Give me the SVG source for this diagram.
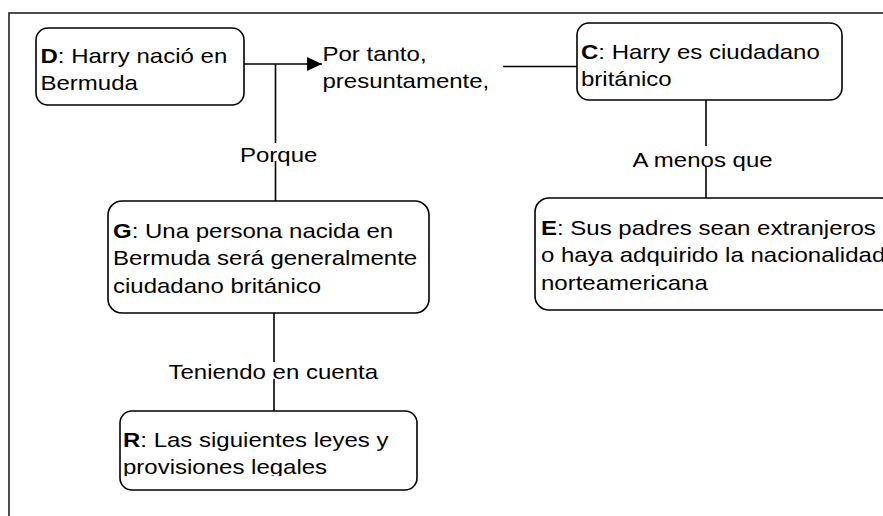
<svg xmlns="http://www.w3.org/2000/svg" width="883" height="516" viewBox="0 0 883 516">
<style>
  text { font-family: "Liberation Sans", Arial, sans-serif; font-size: 21px; fill: #000; }
  .box { fill: #fff; stroke: #000; stroke-width: 1.6; }
  .conn { stroke: #000; stroke-width: 1.6; fill: none; }
  .bg { fill: #fff; stroke: none; }
  .frame { fill: none; stroke: #222; stroke-width: 1.6; }
  b, .b { font-weight: bold; }
</style>
<defs>
  <marker id="arrow" markerUnits="userSpaceOnUse" markerWidth="16" markerHeight="16" refX="15" refY="7" orient="auto">
    <path d="M0,0 L15,7 L0,14 Z" fill="#000"/>
  </marker>
  <clipPath id="clipR"><rect x="118" y="409" width="301" height="67"/></clipPath>
</defs>
<rect class="frame" x="9" y="13" width="900" height="600"/>
<g id="connectors">
  <line class="conn" x1="244" y1="64" x2="322" y2="64" marker-end="url(#arrow)"/>
  <line class="conn" x1="275.5" y1="64" x2="275.5" y2="201"/>
  <line class="conn" x1="503" y1="66.5" x2="577" y2="66.5"/>
  <line class="conn" x1="706" y1="100" x2="706" y2="198"/>
  <line class="conn" x1="274" y1="313" x2="274" y2="411"/>
  <g id="label-porque">
    <rect class="bg" x="240" y="143" width="78" height="18"/>
    <text transform="translate(240,161.5) scale(1.143,1)">Porque</text>
  </g>
  <g id="label-portanto">
    <text transform="translate(322.5,60.5) scale(1.143,1)"><tspan x="0" y="0">Por tanto,</tspan><tspan x="0" y="28">presuntamente,</tspan></text>
  </g>
  <g id="label-amenos">
    <rect class="bg" x="632" y="146" width="142" height="20"/>
    <text transform="translate(632.5,166.5) scale(1.143,1)">A menos que</text>
  </g>
  <g id="label-teniendo">
    <rect class="bg" x="168" y="362" width="213" height="17"/>
    <text transform="translate(168.5,379) scale(1.143,1)">Teniendo en cuenta</text>
  </g>
</g>
<g id="node-D">
  <rect class="box" x="36" y="28" width="208" height="77" rx="12"/>
  <text transform="translate(40.5,63) scale(1.143,1)"><tspan x="0" y="0"><tspan class="b">D</tspan>: Harry nació en</tspan><tspan x="0" y="27.5">Bermuda</tspan></text>
</g>
<g id="node-C">
  <rect class="box" x="577" y="23" width="265" height="77" rx="12"/>
  <text transform="translate(581,58.5) scale(1.143,1)"><tspan x="0" y="0"><tspan class="b">C</tspan>: Harry es ciudadano</tspan><tspan x="0" y="28">británico</tspan></text>
</g>
<g id="node-G">
  <rect class="box" x="108" y="201" width="321" height="112" rx="14"/>
  <text transform="translate(113,237.5) scale(1.143,1)"><tspan x="0" y="0"><tspan class="b">G</tspan>: Una persona nacida en</tspan><tspan x="0" y="28">Bermuda será generalmente</tspan><tspan x="0" y="56">ciudadano británico</tspan></text>
</g>
<g id="node-E">
  <rect class="box" x="535" y="198" width="360" height="112" rx="14"/>
  <text transform="translate(541,234.5) scale(1.143,1)"><tspan x="0" y="0"><tspan class="b">E</tspan>: Sus padres sean extranjeros</tspan><tspan x="0" y="28">o haya adquirido la nacionalidad</tspan><tspan x="0" y="55.5">norteamericana</tspan></text>
</g>
<g id="node-R">
  <rect class="box" x="120" y="411" width="297" height="79" rx="12"/>
  <g clip-path="url(#clipR)">
    <text transform="translate(123,446.5) scale(1.143,1)"><tspan x="0" y="0"><tspan class="b">R</tspan>: Las siguientes leyes y</tspan><tspan x="0" y="27.5">provisiones legales</tspan></text>
  </g>
</g>
</svg>
